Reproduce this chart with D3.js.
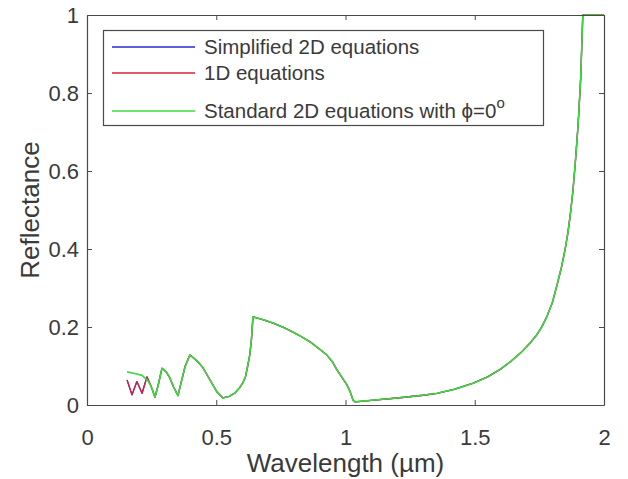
<!DOCTYPE html>
<html>
<head>
<meta charset="utf-8">
<script src="https://cdn.jsdelivr.net/npm/d3@7"></script>
<style>
  html, body { margin: 0; padding: 0; background: #fff; }
  svg { display: block; font-family: "Liberation Sans", Arial, sans-serif; }
</style>
</head>
<body>
<svg id="chart" width="628" height="479"></svg>
<script>
// Short-wavelength part where the models disagree (wavelength in µm, reflectance)
const headLambda1D = [0.155, 0.174, 0.193, 0.213, 0.232, 0.248];
const headR1D      = [0.064, 0.026, 0.060, 0.030, 0.072, 0.048];
const headLambdaSimplified = [0.155, 0.174, 0.193, 0.213, 0.232, 0.248];
const headRSimplified      = [0.064, 0.026, 0.060, 0.030, 0.072, 0.048];
const headLambdaStandard = [0.155, 0.185, 0.213, 0.236, 0.250];
const headRStandard      = [0.085, 0.081, 0.076, 0.062, 0.045];

// Common part of the spectrum shared by all three models
const sharedLambda = [0.263, 0.275, 0.290, 0.305, 0.320, 0.335, 0.352, 0.365, 0.380, 0.398,
  0.410, 0.430, 0.449, 0.476, 0.503, 0.526, 0.550, 0.571, 0.590, 0.602, 0.613, 0.621, 0.630,
  0.636, 0.642, 0.680, 0.720, 0.760, 0.797, 0.830, 0.863, 0.900, 0.928, 0.950, 0.967, 0.985,
  1.006, 1.018, 1.029, 1.037, 1.100, 1.200, 1.300, 1.354, 1.420, 1.494, 1.550, 1.600, 1.640,
  1.680, 1.714, 1.740, 1.760, 1.780, 1.800, 1.820, 1.835, 1.849, 1.860, 1.870, 1.880, 1.890,
  1.900, 1.910, 1.918, 2.000];
const sharedR = [0.020, 0.050, 0.094, 0.086, 0.070, 0.046, 0.024, 0.060, 0.100, 0.128,
  0.122, 0.110, 0.095, 0.064, 0.033, 0.018, 0.022, 0.030, 0.044, 0.056, 0.072, 0.098, 0.130,
  0.167, 0.226, 0.219, 0.210, 0.199, 0.187, 0.175, 0.162, 0.143, 0.128, 0.110, 0.090, 0.072,
  0.051, 0.034, 0.013, 0.008, 0.012, 0.018, 0.025, 0.030, 0.040, 0.056, 0.072, 0.092, 0.112,
  0.135, 0.159, 0.180, 0.201, 0.228, 0.262, 0.312, 0.352, 0.397, 0.440, 0.490, 0.550, 0.630,
  0.720, 0.840, 1.000, 1.000];

const xTicks = [0, 0.5, 1, 1.5, 2];
const yTicks = [0, 0.2, 0.4, 0.6, 0.8, 1];

const seriesNames = ["Simplified 2D equations", "1D equations", "Standard 2D equations with \u03d5=0"];
const seriesColors = ["#2a2ad0", "#d8203a", "#3cd83c"];

function buildSeries(hl, hr) {
  const pts = hl.map((l, i) => ({ l, r: hr[i] }));
  sharedLambda.forEach((l, i) => pts.push({ l, r: sharedR[i] }));
  return pts;
}
const series = [
  buildSeries(headLambdaSimplified, headRSimplified),
  buildSeries(headLambda1D, headR1D),
  buildSeries(headLambdaStandard, headRStandard)
];

const svg = d3.select("#chart");
const margin = { left: 87, right: 24, top: 15, bottom: 74 };
const W = 628, H = 479;
const x = d3.scaleLinear().domain([0, 2]).range([margin.left, W - margin.right]);
const y = d3.scaleLinear().domain([0, 1]).range([H - margin.bottom, margin.top]);

const axisColor = "#4a4a4a";
const textColor = "#3a3a3a";

// curves
const line = d3.line().x(d => x(d.l)).y(d => y(d.r));
const plot = svg.append("g");
series.forEach((s, i) => {
  plot.append("path")
    .datum(s)
    .attr("fill", "none")
    .attr("stroke", seriesColors[i])
    .attr("stroke-width", i === 2 ? 1.6 : 1.3)
    .attr("stroke-linejoin", "round")
    .attr("d", line);
});

// axes with inward ticks on all four sides
function styleAxis(g) {
  g.selectAll("path.domain").attr("stroke", axisColor).attr("stroke-width", 1.2);
  g.selectAll(".tick line").attr("stroke", axisColor).attr("stroke-width", 1);
  g.selectAll(".tick text").attr("fill", textColor)
    .style("font-size", "22px").style("font-family", "'Liberation Sans', Arial, sans-serif");
}
const fmt = d => d3.format("")(d);
svg.append("g").attr("transform", `translate(0,${y(0)})`)
  .call(d3.axisBottom(x).tickValues(xTicks).tickFormat(fmt).tickSizeInner(-5).tickSizeOuter(0).tickPadding(24))
  .call(styleAxis);
svg.append("g").attr("transform", `translate(0,${y(1)})`)
  .call(d3.axisTop(x).tickValues(xTicks).tickFormat("").tickSizeInner(-5).tickSizeOuter(0))
  .call(styleAxis);
svg.append("g").attr("transform", `translate(${x(0)},0)`)
  .call(d3.axisLeft(y).tickValues(yTicks).tickFormat(fmt).tickSizeInner(-5).tickSizeOuter(0).tickPadding(8))
  .call(styleAxis);
svg.append("g").attr("transform", `translate(${x(2)},0)`)
  .call(d3.axisRight(y).tickValues(yTicks).tickFormat("").tickSizeInner(-5).tickSizeOuter(0))
  .call(styleAxis);

// axis titles
svg.append("text")
  .attr("x", (x(0) + x(2)) / 2).attr("y", 472)
  .attr("text-anchor", "middle").attr("fill", textColor)
  .style("font-size", "26px")
  .text("Wavelength (\u00b5m)");
svg.append("text")
  .attr("transform", `translate(39,${(y(0) + y(1)) / 2}) rotate(-90)`)
  .attr("text-anchor", "middle").attr("fill", textColor)
  .style("font-size", "26px")
  .text("Reflectance");

// legend
const legend = svg.append("g");
legend.append("rect")
  .attr("x", 103.5).attr("y", 30.5).attr("width", 440).attr("height", 95)
  .attr("fill", "#fff").attr("stroke", axisColor).attr("stroke-width", 1.2);
const rowY = [47, 73, 111];
seriesNames.forEach((name, i) => {
  legend.append("line")
    .attr("x1", 112).attr("x2", 195).attr("y1", rowY[i]).attr("y2", rowY[i])
    .attr("stroke", seriesColors[i]).attr("stroke-width", 1.3);
  const t = legend.append("text")
    .attr("x", 204).attr("y", rowY[i] + 7)
    .attr("fill", textColor).style("font-size", "20.5px")
    .text(name);
  if (i === 2) {
    t.append("tspan").attr("dy", -10).style("font-size", "15px").text("o");
  }
});
</script>
</body>
</html>
